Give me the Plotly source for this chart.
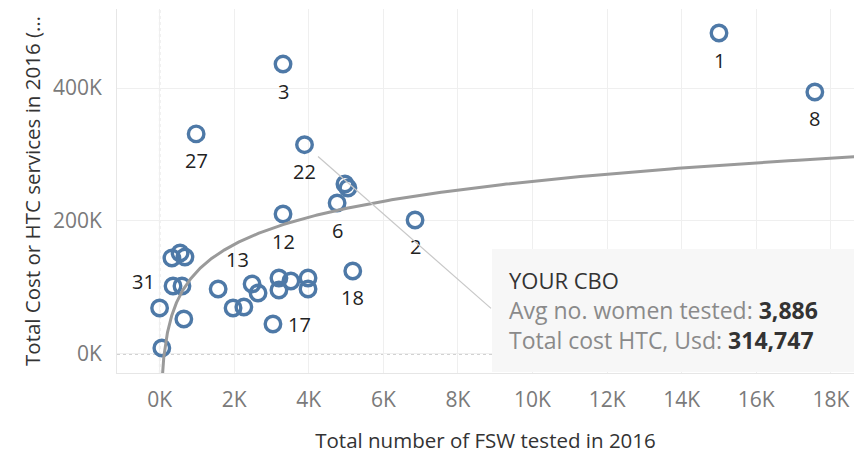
import numpy as np
import plotly.graph_objects as go

# ---------------- data ----------------
fsw_tested = [15000, 17570, 3310, 980, 3886, 4970, 5050, 4760, 3310, 6850,
              330, 550, 680, 360, 600, 0, 650, 60, 1570, 1970,
              2260, 2480, 2640, 3200, 3200, 3520, 3980, 3980, 3040, 5180]
total_cost = [482700, 394000, 436000, 331000, 314747, 255600, 249600, 227000, 210500, 201500,
              144400, 151900, 145900, 102300, 102300, 69200, 52600, 9000, 97700, 69200,
              70700, 105300, 91700, 114300, 96200, 109800, 114300, 97700, 45100, 124800]
cbo_labels = ["1", "8", "3", "27", "22", "", "", "6", "12", "2",
              "", "", "", "31", "", "", "", "", "", "",
              "", "13", "", "", "", "", "", "", "17", "18"]
your_cbo_index = 4
your_cbo_title = "YOUR CBO"

# logarithmic trend line: cost = A*ln(tested) + B
trend_a = 59000
trend_b = -283600

x_tick_vals = [0, 2000, 4000, 6000, 8000, 10000, 12000, 14000, 16000, 18000]
x_tick_text = ["0K", "2K", "4K", "6K", "8K", "10K", "12K", "14K", "16K", "18K"]
y_tick_vals = [0, 200000, 400000]
y_tick_text = ["0K", "200K", "400K"]

x_title = "Total number of FSW tested in 2016"
y_title = "Total Cost or HTC services in 2016 (…"

# ---------------- styling ----------------
FONT = "Open Sans"
BLUE = "#4e79a7"
GRID = "#efefef"
label_offsets = {"31": (-30, 4), "13": (-15, 24), "17": (27, -1)}
default_offset = (0, -27)

fig = go.Figure()

fig.add_trace(go.Scatter(
    x=fsw_tested, y=total_cost, mode="markers",
    marker=dict(symbol="circle-open", size=15.5, color=BLUE, line=dict(width=3.4)),
    hoverinfo="skip", showlegend=False,
))

tx = np.logspace(np.log10(50), np.log10(19000), 400)
fig.add_trace(go.Scatter(
    x=tx, y=trend_a * np.log(tx) + trend_b, mode="lines",
    line=dict(color="#9a9a9a", width=3), hoverinfo="skip", showlegend=False,
))

annotations = []
for xv, yv, lab in zip(fsw_tested, total_cost, cbo_labels):
    if not lab:
        continue
    dx, dy = label_offsets.get(lab, default_offset)
    annotations.append(dict(x=xv, y=yv, xref="x", yref="y", text=lab, showarrow=False,
                            xshift=dx, yshift=dy, font=dict(family=FONT, size=20, color="#222")))

# connector from highlighted CBO to tooltip box
cx, cy = fsw_tested[your_cbo_index], total_cost[your_cbo_index]
annotations.append(dict(x=cx, y=cy, xref="x", yref="y", text="", showarrow=True,
                        ax=188, ay=165, arrowhead=0, arrowwidth=1.2, arrowcolor="#c8c8c8",
                        standoff=18))

tip_x = 0.529
tip_font = dict(family=FONT, size=23, color="#333")
annotations += [
    dict(x=tip_x, y=0.2555, xref="paper", yref="paper", xanchor="left", yanchor="middle",
         showarrow=False, text=f"<span style='font-weight:500'>{your_cbo_title}</span>",
         font=dict(family=FONT, size=22, color="#333")),
    dict(x=tip_x, y=0.1731, xref="paper", yref="paper", xanchor="left", yanchor="middle",
         showarrow=False,
         text=f"<span style='color:#8a8a8a'>Avg no. women tested: </span><b>{cx:,}</b>",
         font=tip_font),
    dict(x=tip_x, y=0.0907, xref="paper", yref="paper", xanchor="left", yanchor="middle",
         showarrow=False,
         text=f"<span style='color:#8a8a8a'>Total cost HTC, Usd: </span><b>{cy:,}</b>",
         font=tip_font),
]

shapes = [
    # zero reference lines (dotted)
    dict(type="line", xref="x", yref="paper", x0=0, x1=0, y0=0, y1=1,
         line=dict(color="white", width=1.5), layer="between"),
    dict(type="line", xref="x", yref="paper", x0=0, x1=0, y0=0, y1=1,
         line=dict(color="#c4c4c4", width=1.3, dash="dot"), layer="between"),
    dict(type="line", xref="paper", yref="y", x0=0, x1=1, y0=0, y1=0,
         line=dict(color="white", width=1.5), layer="between"),
    dict(type="line", xref="paper", yref="y", x0=0, x1=1, y0=0, y1=0,
         line=dict(color="#c4c4c4", width=1.3, dash="dot"), layer="between"),
    # tooltip box
    dict(type="rect", xref="paper", yref="paper", x0=0.5088, x1=1.0, y0=0.003, y1=0.3407,
         fillcolor="#f7f7f7", line=dict(width=0), layer="above"),
]

fig.update_layout(
    width=854, height=454,
    margin=dict(l=117, r=0, t=9, b=81, autoexpand=False),
    paper_bgcolor="white", plot_bgcolor="white",
    font=dict(family=FONT, size=20, color="#777"),
    annotations=annotations, shapes=shapes,
    xaxis=dict(range=[-1142, 18620], tickvals=x_tick_vals, ticktext=x_tick_text,
               automargin=False,
               showgrid=True, gridcolor=GRID, gridwidth=1, zeroline=False,
               showline=True, linecolor="#e6e6e6", linewidth=1,
               ticks="", ticklabelstandoff=8,
               tickfont=dict(family=FONT, size=21, color="#7a7a7a"),
               title=dict(text=x_title, standoff=24,
                          font=dict(family=FONT, size=20.5, color="#333"))),
    yaxis=dict(range=[-28600, 518800], tickvals=y_tick_vals, ticktext=y_tick_text,
               automargin=False,
               showgrid=True, gridcolor=GRID, gridwidth=1, zeroline=False,
               showline=True, linecolor="#e6e6e6", linewidth=1,
               ticks="", ticklabelstandoff=10,
               tickfont=dict(family=FONT, size=21, color="#7a7a7a"),
               title=dict(text=y_title, standoff=6,
                          font=dict(family=FONT, size=20.5, color="#333"))),
)

fig.write_html("out.html", config={"displayModeBar": False},
               post_script="document.body.style.margin='0';document.body.style.overflow='hidden';")
